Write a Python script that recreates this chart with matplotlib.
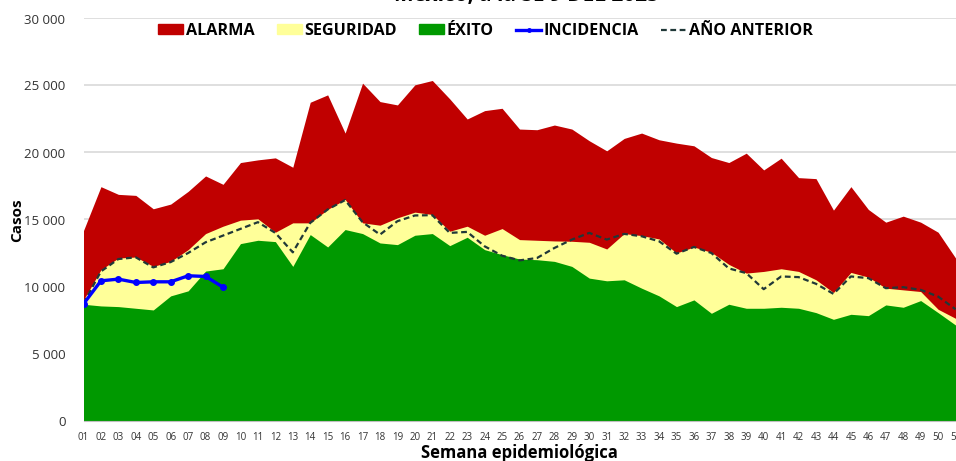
import matplotlib
matplotlib.use("Agg")
import matplotlib.pyplot as plt
from matplotlib.ticker import FuncFormatter
from matplotlib.lines import Line2D
from matplotlib.patches import Patch

plt.rcParams['font.family'] = ['Open Sans', 'DejaVu Sans']

# semanas epidemiologicas (la 52 queda fuera del recorte)
semanas = list(range(1, 53))
etiquetas = ["%02d" % s for s in semanas]

alarma = [14175, 17450, 16875, 16800, 15800, 16150, 17100, 18250, 17625, 19250,
          19450, 19600, 18900, 23750, 24300, 21450, 25175, 23800, 23550, 25050,
          25375, 24000, 22500, 23125, 23300, 21750, 21700, 22050, 21750, 20875,
          20125, 21050, 21450, 20950, 20700, 20500, 19625, 19250, 19950, 18700,
          19575, 18125, 18050, 15700, 17450, 15750, 14800, 15250, 14800, 14050,
          12125]
seguridad = [9000, 11250, 12125, 12200, 11500, 11875, 12750, 13950, 14500, 14950,
             15050, 14050, 14750, 14750, 15750, 16500, 14750, 14575, 15125, 15550,
             15375, 14125, 14500, 13825, 14325, 13500, 13450, 13400, 13375, 13300,
             12800, 13950, 13800, 13550, 12500, 12950, 12550, 11650, 11000, 11125,
             11325, 11125, 10500, 9550, 11050, 10700, 9875, 9750, 9625, 8300,
             7625]
exito = [8675, 8550, 8500, 8375, 8250, 9300, 9675, 11150, 11325, 13200,
         13450, 13350, 11500, 13875, 12950, 14250, 13950, 13250, 13125, 13825,
         13950, 13050, 13675, 12750, 12375, 12050, 12000, 11875, 11500, 10625,
         10425, 10500, 9875, 9300, 8500, 9000, 8000, 8675, 8375, 8375,
         8450, 8375, 8050, 7550, 7925, 7825, 8625, 8450, 8950, 8050,
         7125]
anterior = [8750, 11125, 12050, 12175, 11425, 11825, 12500, 13300, 13800, 14300,
            14800, 14000, 12550, 14750, 15750, 16450, 14800, 13875, 14875, 15300,
            15325, 14000, 14075, 13000, 12300, 11950, 12125, 12875, 13500, 14000,
            13500, 13925, 13750, 13375, 12450, 12950, 12500, 11350, 11000, 9800,
            10750, 10700, 10200, 9450, 10750, 10625, 9875, 9950, 9750, 9250,
            8300]
incidencia = [8700, 10425, 10550, 10300, 10350, 10350, 10800, 10750, 9950]

c_alarma = "#C00000"
c_seg = "#FFFF99"
c_exito = "#009900"
c_inc = "#0000FF"
c_ant = "#203838"

fig = plt.figure(figsize=(9.56, 4.61), dpi=100)
# el eje se sale por la derecha, como en la imagen recortada
ax = fig.add_axes([83.5 / 956, 40.5 / 461, 889.5 / 956, 402 / 461])

x = semanas[:len(alarma)]
ax.fill_between(x, 0, alarma, color=c_alarma, lw=0, zorder=2)
ax.fill_between(x, 0, seguridad, color=c_seg, lw=0, zorder=3)
ax.fill_between(x, 0, exito, color=c_exito, lw=0, zorder=4)
ax.plot(x, anterior, color=c_ant, lw=1.6, ls=(0, (2.6, 1.6)), zorder=5)
ax.plot(semanas[:len(incidencia)], incidencia, color=c_inc, lw=2.4,
        marker="o", ms=4, zorder=6)

ax.set_xlim(1, 52)
ax.set_ylim(0, 30000)
ax.set_yticks(range(0, 30001, 5000))
ax.yaxis.set_major_formatter(FuncFormatter(lambda v, p: "{:,}".format(int(v)).replace(",", " ")))
ax.set_xticks(semanas)
ax.set_xticklabels(etiquetas)
ax.tick_params(axis="y", length=0, labelsize=9.5, pad=13, labelcolor="#333333")
ax.tick_params(axis="x", length=0, labelsize=7, pad=8, labelcolor="#333333")
ax.grid(axis="y", color="#D9D9D9", lw=1.2, zorder=0)
ax.set_axisbelow(True)
for s in ["top", "right", "left"]:
    ax.spines[s].set_visible(False)
ax.spines["bottom"].set_color("#BFBFBF")
ax.spines["bottom"].set_zorder(7)

fig.text(17 / 956, 1 - 220 / 461, "Casos", rotation=90, fontsize=11,
         fontweight="bold", ha="center", va="center")
fig.text(519 / 956, 1 - 453 / 461, "Semana epidemiológica", fontsize=12,
         fontweight="bold", ha="center", va="center")
fig.text(527 / 956, 1 - (-4) / 461, "México, a la SE 9 DEL 2025", fontsize=15,
         fontweight="bold", ha="center", va="center")

handles = [Patch(color=c_alarma), Patch(color=c_seg), Patch(color=c_exito),
           Line2D([], [], color=c_inc, lw=2.4, marker="o", ms=2.5),
           Line2D([], [], color=c_ant, lw=1.6, ls=(0, (2.6, 1.6)))]
labels = ["ALARMA", "SEGURIDAD", "ÉXITO", "INCIDENCIA", "AÑO ANTERIOR"]
leg = fig.legend(handles, labels, loc="center", ncol=5, frameon=False,
                 bbox_to_anchor=(485.5 / 956, 1 - 31 / 461),
                 prop={"weight": "bold", "size": 11.6}, handlelength=1.55,
                 handleheight=0.6, handletextpad=0.15, columnspacing=1.4)

fig.savefig("out.png", dpi=100)
